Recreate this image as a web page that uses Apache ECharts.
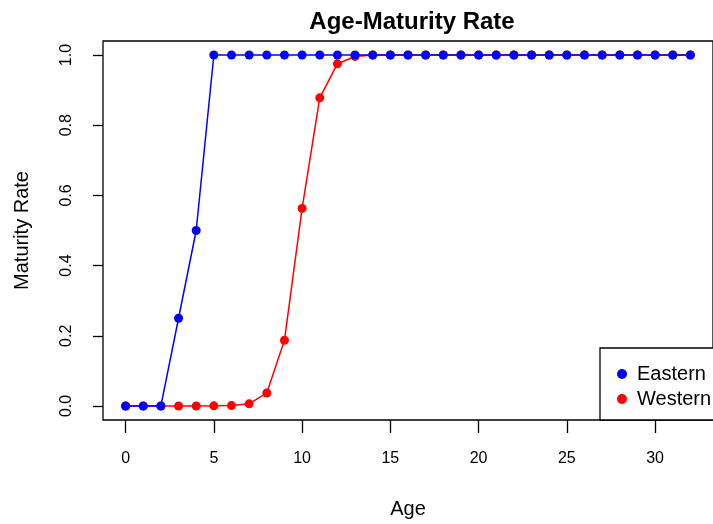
<!DOCTYPE html>
<html>
<head>
    <meta charset="utf-8">
    <title>Age-Maturity Rate</title>
    <script src="https://cdn.jsdelivr.net/npm/echarts@6/dist/echarts.min.js"></script>
    <style>
        html, body { margin: 0; padding: 0; background: #fff; }
        #container { width: 713px; height: 524px; }
    </style>
</head>
<body>
<div id="container"></div>
<script>
    var ages = [];
    for (var a = 0; a <= 32; a++) ages.push(a);

    var eastern = [0, 0, 0, 0.25, 0.5, 1, 1, 1, 1, 1, 1, 1, 1, 1, 1, 1, 1,
        1, 1, 1, 1, 1, 1, 1, 1, 1, 1, 1, 1, 1, 1, 1, 1];
    var western = [0, 0, 0, 0, 0, 0.0003, 0.001, 0.006, 0.037, 0.187, 0.563, 0.878, 0.975, 0.996, 1, 1, 1,
        1, 1, 1, 1, 1, 1, 1, 1, 1, 1, 1, 1, 1, 1, 1, 1];

    var xTicks = [0, 5, 10, 15, 20, 25, 30];
    var yTicks = [0, 0.2, 0.4, 0.6, 0.8, 1.0];

    function pairs(xs, ys) {
        var out = [];
        for (var i = 0; i < xs.length; i++) out.push([xs[i], ys[i]]);
        return out;
    }

    var font = 'Liberation Sans';
    var myChart = echarts.init(document.getElementById('container'));

    var option = {
        animation: false,
        textStyle: { fontFamily: font },
        title: {
            text: 'Age-Maturity Rate',
            left: 407,
            textAlign: 'center',
            top: 5,
            textStyle: { fontSize: 24, fontWeight: 'bold', color: '#000', fontFamily: font }
        },
        grid: {
            left: 103, right: -8, top: 41, bottom: 104,
            show: true, borderColor: '#000', borderWidth: 1.3
        },
        legend: {
            data: ['Eastern', 'Western'],
            orient: 'vertical',
            left: 612, top: 359,
            itemWidth: 10, itemHeight: 10, itemGap: 5,
            icon: 'circle',
            z: 20,
            textStyle: { fontSize: 20, color: '#000', fontFamily: font, padding: [0, 0, 0, 5] }
        },
        graphic: [{
            type: 'rect',
            shape: { x: 600, y: 348, width: 130, height: 72 },
            style: { fill: '#fff', stroke: '#000', lineWidth: 1.3 },
            z: 5
        }],
        xAxis: {
            type: 'value', min: -1.28, max: 33.28,
            name: 'Age', nameLocation: 'middle', nameGap: 79,
            nameTextStyle: { fontSize: 20, color: '#000', fontFamily: font },
            axisLine: { show: false, onZero: false },
            splitLine: { show: false },
            axisTick: { show: true, length: 13, customValues: xTicks, lineStyle: { color: '#000', width: 1.3 } },
            axisLabel: { customValues: xTicks, margin: 31, fontSize: 16, color: '#000', fontFamily: font }
        },
        yAxis: {
            type: 'value', min: -0.04, max: 1.04,
            name: 'Maturity Rate', nameLocation: 'middle', nameGap: 71, nameRotate: 90,
            nameTextStyle: { fontSize: 20, color: '#000', fontFamily: font },
            axisLine: { show: false, onZero: false },
            splitLine: { show: false },
            axisTick: { show: true, length: 10, customValues: yTicks, lineStyle: { color: '#000', width: 1.3 } },
            axisLabel: {
                customValues: yTicks, rotate: 90, margin: 28, fontSize: 16, color: '#000', fontFamily: font,
                formatter: function (v) { return v.toFixed(1); }
            }
        },
        series: [{
            name: 'Western',
            type: 'line',
            data: pairs(ages, western),
            symbol: 'circle', symbolSize: 9,
            itemStyle: { color: '#FF0000' },
            lineStyle: { color: '#FF0000', width: 1.5 },
            z: 2
        }, {
            name: 'Eastern',
            type: 'line',
            data: pairs(ages, eastern),
            symbol: 'circle', symbolSize: 9,
            itemStyle: { color: '#0000FF' },
            lineStyle: { color: '#0000FF', width: 1.5 },
            z: 3
        }]
    };

    myChart.setOption(option);
</script>
</body>
</html>
